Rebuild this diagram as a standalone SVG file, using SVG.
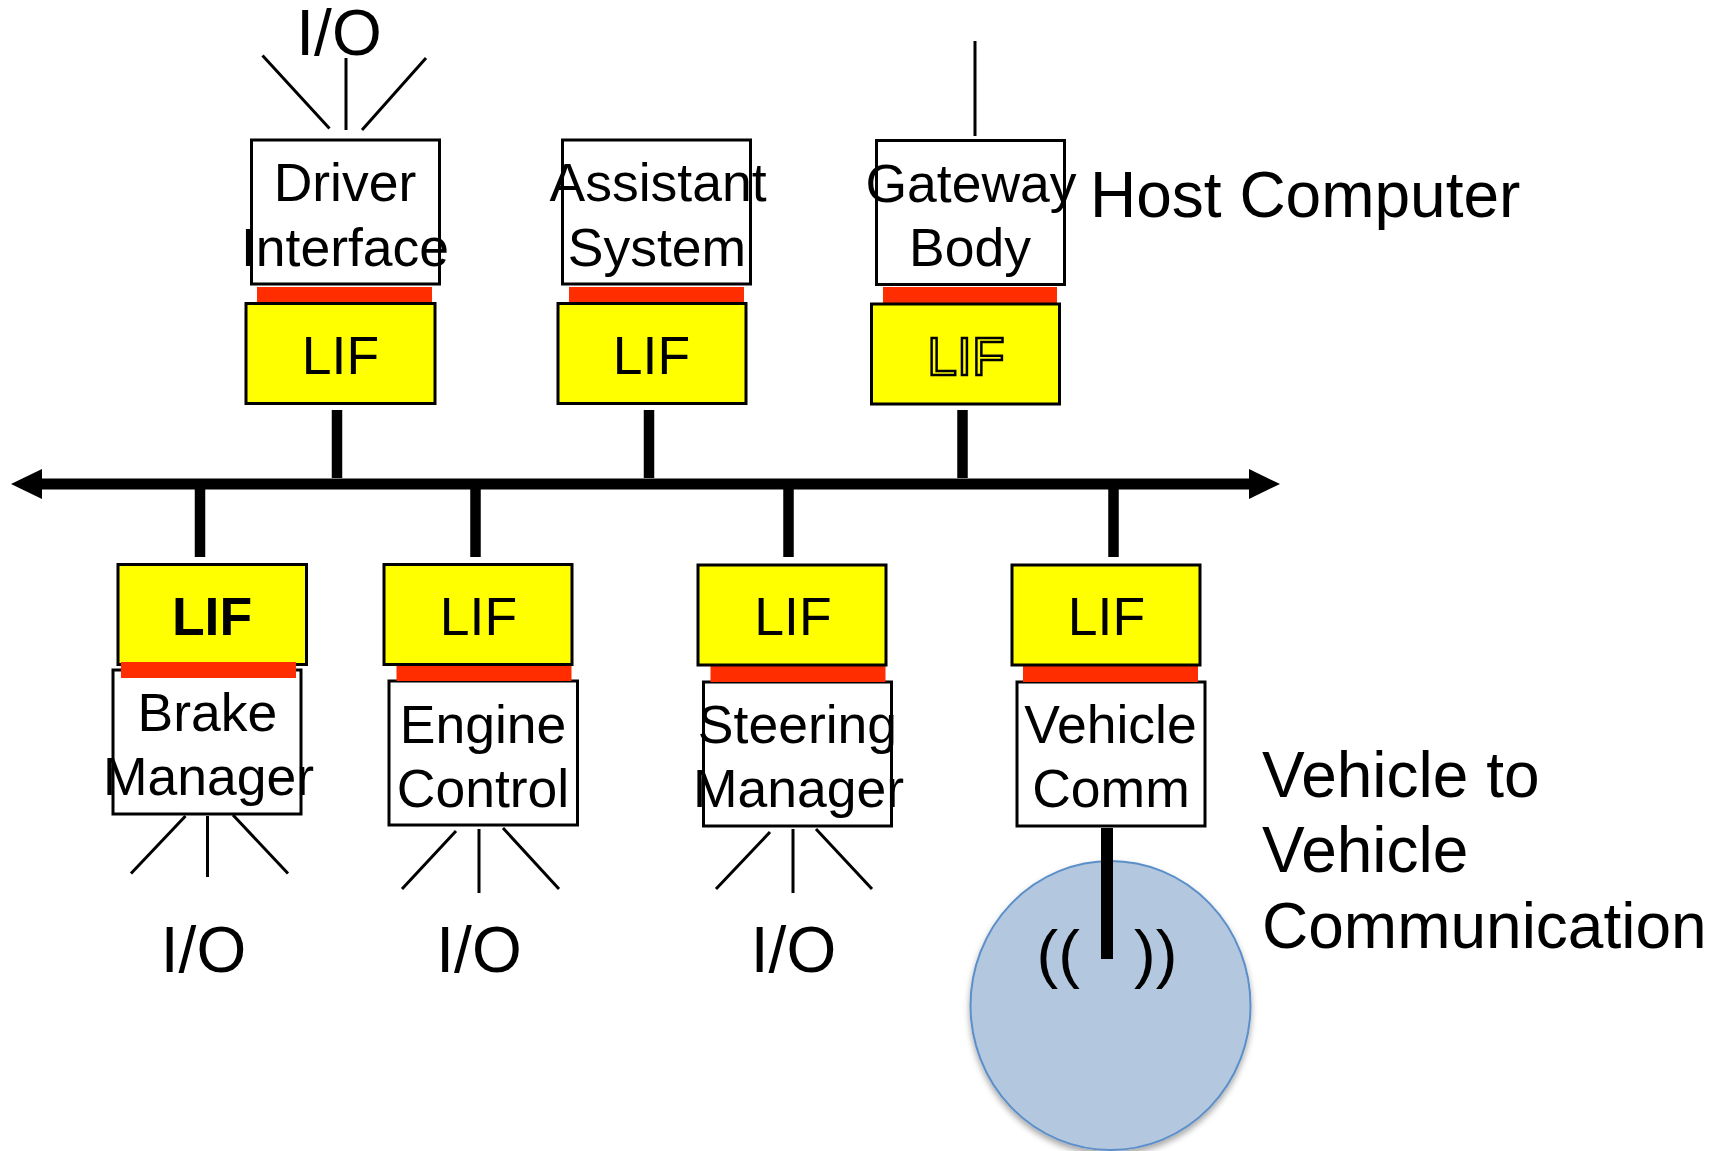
<svg xmlns="http://www.w3.org/2000/svg" width="1722" height="1151" viewBox="0 0 1722 1151">
<style>
text{font-family:"Liberation Sans",Arial,sans-serif;fill:#000;text-anchor:middle}
.n{font-size:53.500px}
.b{font-size:64px}
.l{font-size:64px;text-anchor:start}
.box{fill:#fff;stroke:#000;stroke-width:3}
.lif{fill:#ff0;stroke:#000;stroke-width:3}
.red{fill:#ff2d00}
.thin{stroke:#000;stroke-width:3;fill:none}
.stub{stroke:#000;stroke-width:10.500;fill:none}
</style>
<defs>
<marker id="al" markerUnits="userSpaceOnUse" markerWidth="32" markerHeight="32" refX="31" refY="16" orient="auto"><polygon points="0,16 31,1 31,31" fill="#000"/></marker>
<marker id="ar" markerUnits="userSpaceOnUse" markerWidth="32" markerHeight="32" refX="1" refY="16" orient="auto"><polygon points="32,16 1,1 1,31" fill="#000"/></marker>
<filter id="sh" x="-10%" y="-10%" width="120%" height="120%"><feDropShadow dx="0" dy="4" stdDeviation="3" flood-color="#000" flood-opacity="0.35"/></filter>
</defs>
<g id="circle-node"><ellipse cx="1110.500" cy="1005.500" rx="140" ry="144.500" fill="#b3c8df" stroke="#5b8fc9" stroke-width="2" filter="url(#sh)"/><text id="waves" x="1107" y="976" style="font-size:65px" xml:space="preserve">((   ))</text></g>
<g id="connectors">
<line x1="42" y1="484" x2="1249" y2="484" stroke="#000" stroke-width="11" marker-start="url(#al)" marker-end="url(#ar)"/>
<line class="stub" x1="337" y1="410" x2="337" y2="478"/>
<line class="stub" x1="649" y1="410" x2="649" y2="478"/>
<line class="stub" x1="962.500" y1="410" x2="962.500" y2="478"/>
<line class="stub" x1="200" y1="489" x2="200" y2="557"/>
<line class="stub" x1="475.500" y1="489" x2="475.500" y2="557"/>
<line class="stub" x1="788.500" y1="489" x2="788.500" y2="557"/>
<line class="stub" x1="1113.500" y1="489" x2="1113.500" y2="557"/>
<line x1="1107" y1="828" x2="1107" y2="959" stroke="#000" stroke-width="12"/>
<path class="thin" d="M262.500 55.500L329.500 128.500M346 58V130M426 58L362 130M975 41V136M185.500 816L131 873.500M207.500 816V877M233 815L288 873.500M456 831L402 889M479 829V893M503 828L559 889M770 832L716 889M793 829V893M816 829L872 889"/>
</g>
<g id="driver"><rect class="box" x="251.500" y="140" width="188" height="144"/><rect class="red" x="257" y="287" width="175" height="16"/><rect class="lif" x="246" y="303.500" width="189" height="100"/><text class="n" x="345" y="201">Driver</text><text class="n" x="345" y="265.500">Interface</text><text class="n" x="340.500" y="374">LIF</text></g>
<g id="assistant"><rect class="box" x="562.500" y="140" width="188" height="144"/><rect class="red" x="569" y="287" width="175" height="16"/><rect class="lif" x="558" y="303.500" width="188" height="100"/><text class="n" x="658" y="201">Assistant</text><text class="n" x="657" y="265.500">System</text><text class="n" x="651.500" y="374">LIF</text></g>
<g id="gateway"><rect class="box" x="876.500" y="140.500" width="188" height="144"/><rect class="red" x="883" y="287" width="174" height="16"/><rect class="lif" x="871.500" y="304" width="188" height="100"/><text class="n" x="971" y="202">Gateway</text><text class="n" x="970" y="265.500">Body</text><text class="n" x="966" y="375" style="fill:#ff0;stroke:#000;stroke-width:2.500">LIF</text></g>
<g id="brake"><rect class="box" x="113" y="670" width="188" height="144"/><rect class="lif" x="118" y="564.500" width="188.500" height="100"/><rect class="red" x="121" y="662" width="175" height="16"/><text class="n" x="207.500" y="731">Brake</text><text class="n" x="208.500" y="795">Manager</text><text class="n" x="212" y="635" font-weight="bold">LIF</text></g>
<g id="engine"><rect class="box" x="389" y="681" width="188.500" height="144"/><rect class="red" x="396.500" y="665" width="175" height="16"/><rect class="lif" x="384" y="564.500" width="188" height="100"/><text class="n" x="483" y="742.500">Engine</text><text class="n" x="483" y="807">Control</text><text class="n" x="478.500" y="635">LIF</text></g>
<g id="steering"><rect class="box" x="703.500" y="682" width="188" height="144"/><rect class="red" x="710.500" y="665" width="175" height="17"/><rect class="lif" x="698" y="565" width="188" height="100"/><text class="n" x="797.500" y="743">Steering</text><text class="n" x="798.500" y="807">Manager</text><text class="n" x="793" y="635">LIF</text></g>
<g id="vehicle"><rect class="box" x="1017" y="682" width="188" height="144"/><rect class="red" x="1023" y="665" width="175" height="17"/><rect class="lif" x="1012" y="565" width="188" height="100"/><text class="n" x="1110.500" y="743">Vehicle</text><text class="n" x="1111" y="807">Comm</text><text class="n" x="1106.500" y="635">LIF</text></g>
<g id="labels">
<text class="b" x="339" y="54.500">I/O</text>
<text class="b" x="203.500" y="972">I/O</text>
<text class="b" x="479" y="972">I/O</text>
<text class="b" x="793.500" y="972">I/O</text>
<text class="l" x="1090" y="217">Host Computer</text>
<text class="l" x="1262" y="797">Vehicle to</text>
<text class="l" x="1262" y="872">Vehicle</text>
<text class="l" x="1262" y="948">Communication</text>
</g>
</svg>
